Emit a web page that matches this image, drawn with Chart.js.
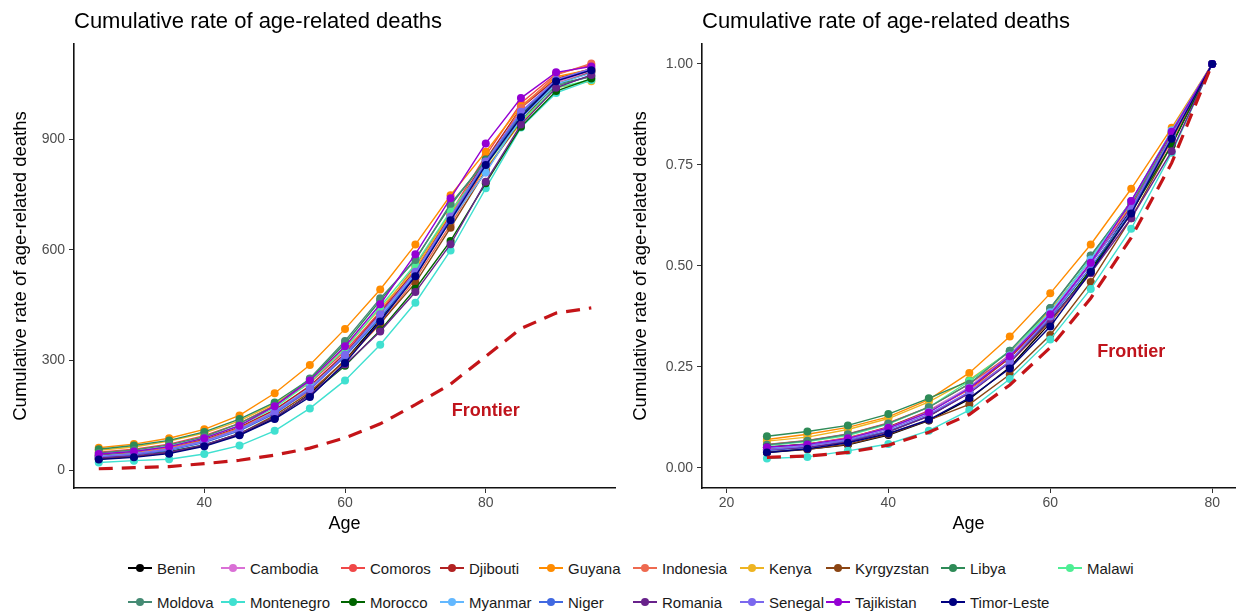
<!DOCTYPE html>
<html><head><meta charset="utf-8">
<script src="https://cdn.jsdelivr.net/npm/chart.js@4.4.1/dist/chart.umd.min.js"></script>
<style>
html,body{margin:0;padding:0;background:#fff;width:1239px;height:614px;overflow:hidden;font-family:"Liberation Sans",Arial,sans-serif;}
#c1{position:absolute;left:0;top:0;}
#c2{position:absolute;left:620px;top:0;}
.lg{position:absolute;height:20px;display:flex;align-items:center;font-size:15px;color:#1a1a1a;white-space:nowrap;}
.key{position:relative;width:24px;height:20px;margin-right:5px;flex:none;}
.key .ln{position:absolute;left:0;top:9px;width:24px;height:2px;}
.key .dt{position:absolute;left:8px;top:6px;width:8px;height:8px;border-radius:50%;}
</style></head><body>
<canvas id="c1" width="620" height="540"></canvas>
<canvas id="c2" width="619" height="540"></canvas>
<div id="legend"></div>
<script>
// ---------- data ----------
const agesLeft  = [25,30,35,40,45,50,55,60,65,70,75,80,85,90,95];
const agesRight = [25,30,35,40,45,50,55,60,65,70,75,80];

const xTicksLeft  = [40,60,80];
const yTicksLeft  = [0,300,600,900];
const xTicksRight = [20,40,60,80];
const yTicksRight = [0,0.25,0.5,0.75,1.0];

const countries = ["Benin","Cambodia","Comoros","Djibouti","Guyana","Indonesia","Kenya","Kyrgyzstan","Libya","Malawi",
                   "Moldova","Montenegro","Morocco","Myanmar","Niger","Romania","Senegal","Tajikistan","Timor-Leste"];
const colors = ["#000000","#DA70D6","#F04848","#B22222","#FF8C00","#EE6A50","#EEB422","#8B4513","#2E8B57","#4EEE94",
                "#458B74","#40E0D0","#006400","#63B8FF","#4169E1","#68228B","#7B68EE","#9400D3","#000080"];

// left panel: cumulative rate (absolute)
const benin_L      = [32,38,48,68,98,142,208,300,410,535,690,835,965,1060,1085];
const cambodia_L   = [42,48,60,82,115,162,228,315,420,538,685,810,960,1055,1085];
const comoros_L    = [50,58,72,95,128,178,238,325,432,556,700,856,998,1078,1102];
const djibouti_L   = [42,50,62,85,118,165,230,318,428,545,695,845,985,1065,1092];
const guyana_L     = [62,72,88,112,150,210,287,385,492,614,748,866,990,1070,1090];
const indonesia_L  = [38,48,62,82,115,160,215,298,398,520,668,825,985,1075,1106];
const kenya_L      = [55,64,80,102,135,182,242,335,440,548,700,820,945,1040,1058];
const kyrgyzstan_L = [32,38,48,68,100,150,212,300,400,510,660,815,950,1050,1082];
const libya_L      = [58,68,82,105,140,185,248,345,462,575,720,845,965,1050,1070];
const malawi_L     = [45,52,66,88,122,170,240,330,445,560,705,830,950,1040,1062];
const moldova_L    = [48,56,70,92,128,175,250,352,468,572,725,840,960,1045,1072];
const montenegro_L = [22,27,31,45,68,108,169,245,342,456,598,767,932,1026,1061];
const morocco_L    = [40,45,52,70,100,145,205,285,381,494,624,781,934,1031,1065];
const myanmar_L    = [40,46,58,80,112,160,225,312,418,535,680,810,958,1050,1080];
const niger_L      = [36,42,55,76,108,155,220,310,415,530,685,835,970,1060,1090];
const romania_L    = [35,40,50,70,100,145,205,288,378,485,615,785,940,1040,1075];
const senegal_L    = [38,45,58,80,112,158,222,315,425,540,690,840,975,1062,1092];
const tajikistan_L = [45,52,65,88,122,175,245,338,452,588,740,889,1012,1082,1098];
const timor_L      = [30,36,46,66,96,140,200,292,405,528,680,830,960,1058,1088];
const frontier_L   = [5,8,11,19,28,42,61,89,127,179,235,310,386,428,442];

// right panel: cumulative rate (relative)
const benin_R      = [0.038,0.046,0.057,0.081,0.117,0.170,0.249,0.359,0.491,0.641,0.826,1];
const cambodia_R   = [0.052,0.059,0.074,0.101,0.142,0.200,0.281,0.385,0.515,0.655,0.830,1];
const comoros_R    = [0.058,0.068,0.084,0.111,0.150,0.208,0.278,0.380,0.505,0.650,0.818,1];
const djibouti_R   = [0.050,0.059,0.073,0.101,0.140,0.195,0.272,0.376,0.506,0.645,0.822,1];
const guyana_R     = [0.070,0.083,0.100,0.126,0.169,0.235,0.325,0.432,0.553,0.691,0.842,1];
const indonesia_R  = [0.046,0.058,0.075,0.099,0.139,0.194,0.261,0.361,0.482,0.630,0.810,1];
const kenya_R      = [0.066,0.076,0.095,0.122,0.163,0.218,0.288,0.390,0.515,0.655,0.830,1];
const kyrgyzstan_R = [0.040,0.046,0.058,0.083,0.118,0.157,0.231,0.329,0.460,0.618,0.800,1];
const libya_R      = [0.078,0.090,0.105,0.133,0.172,0.215,0.288,0.395,0.525,0.660,0.830,1];
const malawi_R     = [0.055,0.065,0.080,0.108,0.150,0.215,0.290,0.385,0.520,0.660,0.835,1];
const moldova_R    = [0.057,0.067,0.083,0.110,0.150,0.208,0.290,0.396,0.526,0.655,0.820,1];
const montenegro_R = [0.023,0.027,0.042,0.059,0.092,0.143,0.220,0.318,0.443,0.592,0.780,1];
const morocco_R    = [0.051,0.058,0.067,0.090,0.128,0.186,0.262,0.365,0.488,0.633,0.799,1];
const myanmar_R    = [0.049,0.057,0.072,0.099,0.138,0.198,0.278,0.385,0.516,0.660,0.835,1];
const niger_R      = [0.043,0.050,0.066,0.091,0.129,0.186,0.263,0.371,0.497,0.635,0.820,1];
const romania_R    = [0.045,0.051,0.064,0.089,0.128,0.185,0.261,0.367,0.482,0.618,0.784,1];
const senegal_R    = [0.045,0.054,0.069,0.095,0.133,0.188,0.264,0.375,0.506,0.643,0.821,1];
const tajikistan_R = [0.051,0.058,0.073,0.099,0.137,0.197,0.276,0.380,0.508,0.661,0.832,1];
const timor_R      = [0.038,0.047,0.062,0.085,0.119,0.173,0.246,0.350,0.485,0.630,0.815,1];
const frontier_R   = [0.026,0.029,0.038,0.056,0.088,0.132,0.205,0.298,0.420,0.570,0.755,1];

const seriesLeft  = [benin_L,cambodia_L,comoros_L,djibouti_L,guyana_L,indonesia_L,kenya_L,kyrgyzstan_L,libya_L,malawi_L,
                     moldova_L,montenegro_L,morocco_L,myanmar_L,niger_L,romania_L,senegal_L,tajikistan_L,timor_L];
const seriesRight = [benin_R,cambodia_R,comoros_R,djibouti_R,guyana_R,indonesia_R,kenya_R,kyrgyzstan_R,libya_R,malawi_R,
                     moldova_R,montenegro_R,morocco_R,myanmar_R,niger_R,romania_R,senegal_R,tajikistan_R,timor_R];

const panelTitle = "Cumulative rate of age-related deaths";
const yAxisTitle = "Cumulative rate of age-related deaths";
const xAxisTitle = "Age";
const frontierLabel = "Frontier";

// ---------- style ----------
const FONT = '"Liberation Sans", Arial, Helvetica, sans-serif';
const frontierColor = "#C41418";
const frontierText = "#C0141C";
Chart.defaults.font.family = FONT;

const decorPlugin = {
  id: 'decor',
  afterDraw(chart, args, opts) {
    const ctx = chart.ctx;
    ctx.save();
    ctx.font = '22px ' + FONT;
    ctx.fillStyle = '#000';
    ctx.textAlign = 'left';
    ctx.textBaseline = 'alphabetic';
    ctx.fillText(opts.title, chart.chartArea.left, 28);
    ctx.font = 'bold 18px ' + FONT;
    ctx.fillStyle = frontierText;
    ctx.textAlign = 'center';
    ctx.textBaseline = 'middle';
    ctx.fillText(opts.label, chart.scales.x.getPixelForValue(opts.labelX), chart.scales.y.getPixelForValue(opts.labelY));
    ctx.restore();
  }
};

function buildDatasets(xs, series, frontier) {
  const ds = [{
    label: frontierLabel,
    data: xs.map((a, i) => ({x: a, y: frontier[i]})),
    borderColor: frontierColor, borderWidth: 3.2, borderDash: [14, 9],
    pointRadius: 0, fill: false, tension: 0
  }];
  for (let k = series.length - 1; k >= 0; k--) {
    ds.push({
      label: countries[k],
      data: xs.map((a, i) => ({x: a, y: series[k][i]})),
      borderColor: colors[k], backgroundColor: colors[k],
      borderWidth: 1.4, pointRadius: 4, pointBorderWidth: 0, pointHoverRadius: 4,
      fill: false, tension: 0
    });
  }
  return ds;
}

function makeChart(id, xs, series, frontier, o) {
  const axisCommon = {
    grid: {display: true, drawOnChartArea: false, drawTicks: true, tickLength: 5, color: '#333', lineWidth: 1},
    border: {display: true, color: '#111', width: 1.6}
  };
  return new Chart(document.getElementById(id), {
    type: 'line',
    data: {datasets: buildDatasets(xs, series, frontier)},
    options: {
      responsive: false, animation: false, events: [],
      layout: {padding: {left: 0, right: o.padRight, top: 44, bottom: 0}},
      plugins: {legend: {display: false}, tooltip: {enabled: false},
                decor: {title: panelTitle, label: frontierLabel, labelX: o.labelX, labelY: o.labelY}},
      scales: {
        x: Object.assign({}, axisCommon, {
          type: 'linear', min: o.xmin, max: o.xmax,
          afterBuildTicks: s => { s.ticks = o.xticks.map(v => ({value: v})); },
          afterFit: s => { s.height = 52; },
          ticks: {color: '#4d4d4d', font: {size: 14}, padding: 2, maxRotation: 0, autoSkip: false},
          title: {display: true, text: xAxisTitle, color: '#000', font: {size: 18}, padding: {top: 0, bottom: 5}}
        }),
        y: Object.assign({}, axisCommon, {
          type: 'linear', min: o.ymin, max: o.ymax,
          afterBuildTicks: s => { s.ticks = o.yticks.map(v => ({value: v})); },
          afterFit: s => { s.width = o.yWidth; },
          ticks: {color: '#4d4d4d', font: {size: 14}, padding: 4, autoSkip: false,
                  callback: o.yfmt},
          title: {display: true, text: yAxisTitle, color: '#000', font: {size: 18.5}, padding: {top: 10, bottom: 0}}
        })
      }
    },
    plugins: [decorPlugin]
  });
}

makeChart('c1', agesLeft, seriesLeft, frontier_L, {
  padRight: 5, yWidth: 74, xmin: 21.48, xmax: 98.37, ymin: -47.3, ymax: 1159,
  xticks: xTicksLeft, yticks: yTicksLeft, yfmt: v => String(v), labelX: 80, labelY: 162
});
makeChart('c2', agesRight, seriesRight, frontier_R, {
  padRight: 0, yWidth: 82, xmin: 16.98, xmax: 82.82, ymin: -0.050, ymax: 1.0495,
  xticks: xTicksRight, yticks: yTicksRight, yfmt: v => Number(v).toFixed(2), labelX: 70, labelY: 0.287
});

// ---------- legend (HTML) ----------
const legendCols = [140,233,353,452,551,645,752,838,953,1070];
const legendRows = [568,602];
const lg = document.getElementById('legend');
countries.forEach((name, k) => {
  const row = k < 10 ? 0 : 1;
  const col = k < 10 ? k : k - 10;
  const it = document.createElement('div');
  it.className = 'lg';
  it.style.left = (legendCols[col] - 12) + 'px';
  it.style.top = (legendRows[row] - 10) + 'px';
  it.innerHTML = '<span class="key"><span class="ln" style="background:' + colors[k] + '"></span><span class="dt" style="background:' + colors[k] + '"></span></span><span>' + name + '</span>';
  lg.appendChild(it);
});
</script>
</body></html>
